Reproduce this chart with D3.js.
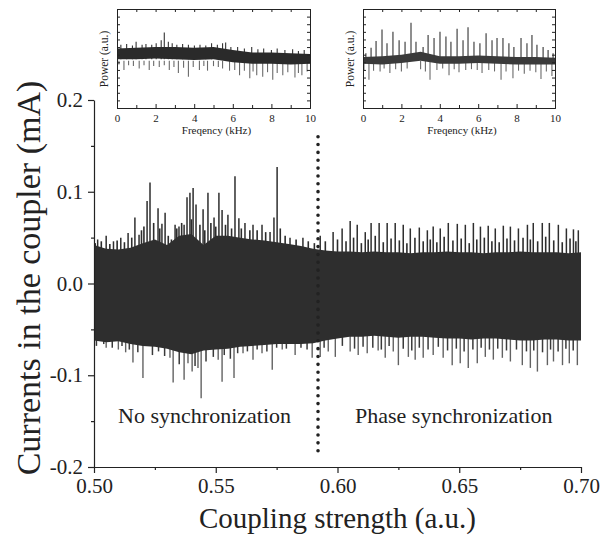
<!DOCTYPE html>
<html>
<head>
<meta charset="utf-8">
<script src="https://cdn.jsdelivr.net/npm/d3@7"></script>
<style>
body { margin: 0; background: #fff; }
text { font-family: "Liberation Serif", "DejaVu Serif", serif; fill: #222; }
.axis path, .axis line { stroke: #222; stroke-width: 1.2; }
</style>
</head>
<body>
<svg id="svgCanvas" width="602" height="542"></svg>
<script>
// main trace: dark band (envelope) read every 0.005 of coupling strength
var bodyX   = [0.500,0.505,0.510,0.515,0.520,0.525,0.530,0.535,0.540,0.545,0.550,0.555,0.560,0.565,0.570,0.575,0.580,0.585,0.590,0.595,0.600,
               0.605,0.610,0.615,0.620,0.625,0.630,0.635,0.640,0.645,0.650,0.655,0.660,0.665,0.670,0.675,0.680,0.685,0.690,0.695,0.700];
var bodyTop = [0.042,0.038,0.037,0.039,0.044,0.048,0.042,0.052,0.054,0.042,0.052,0.052,0.050,0.048,0.047,0.045,0.043,0.041,0.038,0.036,0.035,
               0.035,0.034,0.035,0.034,0.034,0.033,0.034,0.034,0.035,0.034,0.034,0.033,0.034,0.034,0.035,0.034,0.034,0.034,0.033,0.034];
var bodyBot = [-0.062,-0.064,-0.063,-0.066,-0.068,-0.069,-0.071,-0.075,-0.077,-0.073,-0.072,-0.071,-0.069,-0.068,-0.067,-0.066,-0.066,-0.066,-0.065,-0.062,-0.060,
               -0.058,-0.058,-0.057,-0.058,-0.059,-0.058,-0.058,-0.059,-0.060,-0.060,-0.061,-0.060,-0.060,-0.061,-0.062,-0.062,-0.061,-0.061,-0.062,-0.062];

// spikes sticking out of the band [x, value]
var spikesUp = [[0.5015,0.048],[0.5050,0.052],[0.5080,0.046],[0.5110,0.050],[0.5140,0.055],[0.5168,0.072],[0.5185,0.053],[0.5218,0.090],
  [0.5230,0.110],[0.5263,0.082],[0.5279,0.065],[0.5292,0.077],[0.5333,0.064],[0.5349,0.062],[0.5370,0.064],[0.5382,0.094],[0.5394,0.099],
  [0.5407,0.104],[0.5419,0.086],[0.5448,0.081],[0.5468,0.099],[0.5493,0.072],[0.5513,0.099],[0.5526,0.080],[0.5550,0.075],[0.5579,0.117],
  [0.5595,0.071],[0.5620,0.066],[0.5653,0.064],[0.5690,0.064],[0.5723,0.056],[0.5739,0.072],[0.5752,0.127],[0.5805,0.050],[0.5858,0.050],
  [0.5929,0.052],[0.5982,0.056],[0.6019,0.060],[0.6052,0.068],[0.6081,0.064],[0.6114,0.056],[0.6138,0.066],[0.6171,0.066],[0.6204,0.066],
  [0.6237,0.066],[0.6270,0.064],[0.6299,0.060],[0.6336,0.061],[0.6369,0.058],[0.6393,0.062],[0.6422,0.060],[0.6455,0.066],[0.6492,0.065],
  [0.6525,0.064],[0.6558,0.066],[0.6587,0.062],[0.6619,0.063],[0.6648,0.060],[0.6681,0.063],[0.6710,0.062],[0.6743,0.060],[0.6780,0.064],
  [0.6804,0.066],[0.6841,0.066],[0.6870,0.066],[0.6907,0.064],[0.6940,0.060],[0.6969,0.059],[0.6989,0.058]];
var spikesUpMinor = [[0.5005,0.044],[0.5030,0.046],[0.5065,0.043],[0.5095,0.047],[0.5125,0.045],[0.5155,0.050],[0.5195,0.058],[0.5205,0.062],
  [0.5245,0.066],[0.5270,0.060],[0.5305,0.052],[0.5318,0.048],[0.5340,0.060],[0.5360,0.066],[0.5400,0.070],[0.5435,0.064],[0.5455,0.058],
  [0.5480,0.066],[0.5500,0.062],[0.5540,0.064],[0.5565,0.060],[0.5605,0.060],[0.5640,0.058],[0.5670,0.058],[0.5705,0.056],[0.5765,0.060],
  [0.5785,0.052],[0.5830,0.048],[0.5880,0.046],[0.5905,0.044],
  [0.5950,0.046],[0.6000,0.048],[0.6035,0.046],[0.6066,0.050],[0.6098,0.044],[0.6126,0.048],[0.6155,0.052],[0.6188,0.045],
  [0.6220,0.049],[0.6254,0.047],[0.6285,0.044],[0.6318,0.050],[0.6352,0.046],[0.6381,0.048],[0.6408,0.045],[0.6438,0.051],[0.6474,0.047],
  [0.6508,0.049],[0.6541,0.044],[0.6572,0.048],[0.6603,0.050],[0.6634,0.046],[0.6664,0.045],[0.6696,0.049],[0.6727,0.047],[0.6762,0.050],
  [0.6792,0.048],[0.6822,0.046],[0.6855,0.051],[0.6888,0.047],[0.6923,0.045],[0.6955,0.049],[0.6979,0.046]];
var spikesDown = [[0.5025,-0.053],[0.5050,-0.070],[0.5100,-0.072],[0.5130,-0.075],[0.5160,-0.086],[0.5201,-0.103],[0.5222,-0.064],
  [0.5312,-0.081],[0.5325,-0.108],[0.5370,-0.105],[0.5386,-0.087],[0.5403,-0.096],[0.5427,-0.092],[0.5440,-0.125],[0.5510,-0.083],
  [0.5526,-0.107],[0.5547,-0.069],[0.5575,-0.103],[0.5612,-0.076],[0.5653,-0.083],[0.5690,-0.076],[0.5732,-0.094],[0.5773,-0.072],
  [0.5826,-0.078],[0.5896,-0.081],[0.5929,-0.080],[0.5962,-0.074],[0.5991,-0.080],[0.6052,-0.074],[0.6085,-0.078],[0.6122,-0.076],
  [0.6167,-0.073],[0.6196,-0.081],[0.6229,-0.074],[0.6250,-0.089],[0.6291,-0.080],[0.6319,-0.083],[0.6352,-0.081],[0.6393,-0.078],
  [0.6434,-0.081],[0.6471,-0.089],[0.6504,-0.087],[0.6537,-0.092],[0.6574,-0.087],[0.6607,-0.080],[0.6640,-0.083],[0.6677,-0.081],
  [0.6710,-0.085],[0.6759,-0.089],[0.6792,-0.092],[0.6821,-0.096],[0.6862,-0.089],[0.6887,-0.085],[0.6924,-0.089],[0.6952,-0.087],[0.6985,-0.089]];
var spikesDownMinor = [[0.5010,-0.068],[0.5040,-0.066],[0.5075,-0.070],[0.5115,-0.068],[0.5145,-0.072],[0.5180,-0.075],[0.5240,-0.078],
  [0.5265,-0.074],[0.5290,-0.079],[0.5350,-0.088],[0.5415,-0.090],[0.5460,-0.085],[0.5490,-0.080],[0.5535,-0.078],[0.5560,-0.082],
  [0.5590,-0.076],[0.5630,-0.074],[0.5670,-0.072],[0.5710,-0.074],[0.5750,-0.070],[0.5790,-0.071],[0.5850,-0.070],[0.5875,-0.072],
  [0.5945,-0.070],[0.6020,-0.068],[0.6070,-0.071],[0.6105,-0.069],[0.6145,-0.070],[0.6180,-0.072],[0.6212,-0.068],
  [0.6270,-0.071],[0.6305,-0.073],[0.6336,-0.070],[0.6372,-0.072],[0.6414,-0.069],[0.6452,-0.073],[0.6488,-0.071],[0.6520,-0.074],
  [0.6556,-0.072],[0.6590,-0.070],[0.6624,-0.072],[0.6658,-0.071],[0.6694,-0.073],[0.6735,-0.072],[0.6776,-0.074],[0.6806,-0.073],
  [0.6842,-0.075],[0.6875,-0.072],[0.6906,-0.074],[0.6938,-0.071],[0.6968,-0.073]];

var xTicks = [0.50,0.55,0.60,0.65,0.70];
var xMinorTicks = [0.525,0.575,0.625,0.675];
var yTicks = [-0.2,-0.1,0.0,0.1,0.2];
var yMinorTicks = [-0.15,-0.05,0.05,0.15];
var transitionX = 0.592;
var transitionSpan = [-0.184, 0.160];

// insets: power spectra, frequency in kHz, power in arbitrary units (0..13)
var specF = [0,1,2,3,4,5,6,7,8,9,10];
var leftTop = [7.8,7.9,8.0,8.0,7.9,8.0,7.6,7.3,7.3,7.2,7.1];
var leftBot = [6.4,6.4,6.5,6.4,6.3,6.4,6.0,5.8,5.8,5.7,5.8];
var leftPeaks = [[0.2,8.3],[0.5,8.4],[0.8,8.2],[0.99,8.7],[1.3,8.3],[1.5,8.4],[1.8,8.3],[2.03,8.5],[2.29,8.9],[2.45,9.9],[2.66,8.7],[2.86,8.5],
  [3.1,8.3],[3.4,8.4],[3.7,8.3],[4.01,8.2],[4.3,8.3],[4.6,8.2],[4.9,8.5],[5.2,8.3],[5.47,8.5],[5.63,8.6],[5.9,8.0],[6.25,8.0],[6.6,7.8],
  [6.98,8.0],[7.3,7.7],[7.6,7.8],[8.0,7.6],[8.3,7.8],[8.7,7.6],[9.1,7.7],[9.4,7.5],[9.7,7.6]];
var leftDips = [[0.1,5.7],[0.36,5.0],[0.6,5.6],[0.85,5.5],[1.15,5.2],[1.4,5.6],[1.67,5.0],[1.9,5.5],[2.19,5.4],[2.45,5.6],[2.71,5.0],[2.95,5.4],
  [3.18,4.6],[3.45,5.3],[3.70,4.1],[3.95,5.4],[4.27,5.0],[4.5,5.5],[4.69,4.9],[5.0,5.5],[5.25,5.4],[5.47,5.2],[5.83,4.9],[6.1,5.0],
  [6.35,4.3],[6.6,4.9],[6.88,3.9],[7.05,4.8],[7.24,4.3],[7.55,4.1],[7.8,4.7],[8.07,3.7],[8.3,4.6],[8.59,4.3],[8.85,4.7],[9.22,4.0],[9.4,4.6],[9.58,4.3],[9.85,4.8]];
var rightTop = [6.7,6.8,7.0,7.4,6.8,6.8,6.9,6.8,6.7,6.7,6.6];
var rightBot = [5.8,5.7,5.9,6.2,5.8,5.8,5.9,5.8,5.7,5.7,5.7];
var rightPeaks = [[0.15,7.2],[0.42,7.9],[0.68,8.8],[0.99,10.3],[1.25,8.5],[1.56,10.0],[1.88,8.9],[2.19,8.7],[2.50,11.2],[2.76,8.7],[3.13,8.0],
  [3.39,9.6],[3.70,9.2],[4.01,10.0],[4.32,9.4],[4.58,8.7],[4.90,10.4],[5.21,8.9],[5.47,10.6],[5.78,8.7],[6.09,8.5],[6.41,9.8],[6.72,8.9],
  [6.98,9.2],[7.29,9.2],[7.60,8.5],[7.86,8.0],[8.23,9.2],[8.54,8.5],[8.80,9.6],[9.06,8.3],[9.38,8.0],[9.64,7.6],[9.90,7.2]];
var rightDips = [[0.05,4.9],[0.31,3.7],[0.55,4.9],[0.89,4.8],[1.1,5.2],[1.4,4.6],[1.7,5.1],[2.0,4.8],[2.3,5.2],[3.0,5.1],[3.25,4.8],[3.49,3.7],
  [3.85,5.0],[4.15,5.2],[4.48,4.3],[4.75,5.1],[5.0,4.7],[5.35,5.0],[5.65,5.1],[5.95,5.0],[6.2,4.6],[6.55,5.0],[6.85,4.8],[7.19,3.7],
  [7.45,4.8],[7.81,3.9],[8.1,4.9],[8.4,4.5],[8.7,4.9],[9.0,4.7],[9.27,3.8],[9.55,4.8],[9.84,4.2]];
var freqTicks = [0,2,4,6,8,10];
var freqMinorTicks = [1,3,5,7,9];
var powerTicks = d3.range(0, 14);

var canvas = d3.select("#svgCanvas");

var x = d3.scaleLinear().domain([0.5, 0.7]).range([94, 581]);
var y = d3.scaleLinear().domain([-0.2, 0.2]).range([467, 100]);

function drawSpikes(g, data, base, color, w) {
    g.selectAll(null)
        .data(data)
        .enter().append("line")
        .attr("x1", function(d) { return x(d[0]); })
        .attr("x2", function(d) { return x(d[0]); })
        .attr("y1", y(base))
        .attr("y2", function(d) { return y(d[1]); })
        .attr("stroke", color)
        .attr("stroke-width", w);
}

//spikes first, band on top of them
var spikes = canvas.append("g");
drawSpikes(spikes, spikesUpMinor, 0, "#2c2c2c", 1.6);
drawSpikes(spikes, spikesDownMinor, 0, "#3a3a3a", 1.5);
drawSpikes(spikes, spikesUp, 0, "#2e2e2e", 1.5);
drawSpikes(spikes, spikesDown, 0, "#626262", 1.4);

var band = d3.area()
    .x(function(d, i) { return x(bodyX[i]); })
    .y0(function(d, i) { return y(bodyBot[i]); })
    .y1(function(d, i) { return y(bodyTop[i]); });

canvas.append("path")
    .datum(bodyX)
    .attr("d", band)
    .attr("fill", "#2e2e2e");

//dotted transition line
canvas.append("line")
    .attr("x1", x(transitionX)).attr("x2", x(transitionX))
    .attr("y1", y(transitionSpan[1])).attr("y2", y(transitionSpan[0]))
    .attr("stroke", "#222")
    .attr("stroke-width", 3.6)
    .attr("stroke-linecap", "round")
    .attr("stroke-dasharray", "0 7.85");

//axes
canvas.append("g").attr("class", "axis")
    .attr("transform", "translate(0," + y(-0.2) + ")")
    .call(d3.axisBottom(x).tickValues(xTicks).tickSize(6).tickSizeOuter(0).tickPadding(5)
        .tickFormat(function(d) { return d.toFixed(2); }));
canvas.append("g").attr("class", "axis")
    .attr("transform", "translate(0," + y(-0.2) + ")")
    .call(d3.axisBottom(x).tickValues(xMinorTicks).tickSize(3).tickFormat(""))
    .select(".domain").remove();

canvas.append("g").attr("class", "axis")
    .attr("transform", "translate(" + x(0.5) + ",0)")
    .call(d3.axisLeft(y).tickValues(yTicks).tickSize(6).tickSizeOuter(0).tickPadding(5)
        .tickFormat(function(d) { return d.toFixed(1); }));
canvas.append("g").attr("class", "axis")
    .attr("transform", "translate(" + x(0.5) + ",0)")
    .call(d3.axisLeft(y).tickValues(yMinorTicks).tickSize(3).tickFormat(""))
    .select(".domain").remove();

canvas.selectAll(".axis text")
    .style("font-family", "'Liberation Serif', serif")
    .style("font-size", "21px")
    .attr("fill", "#222");

canvas.append("text")
    .attr("x", (x(0.5) + x(0.7)) / 2)
    .attr("y", 528)
    .attr("text-anchor", "middle")
    .style("font-size", "29px")
    .text("Coupling strength (a.u.)");

canvas.append("text")
    .attr("transform", "translate(40,278) rotate(-90)")
    .attr("text-anchor", "middle")
    .style("font-size", "34px")
    .text("Currents in the coupler (mA)");

canvas.append("text")
    .attr("x", x(0.5099)).attr("y", y(-0.152))
    .style("font-size", "22px")
    .text("No synchronization");
canvas.append("text")
    .attr("x", x(0.6072)).attr("y", y(-0.152))
    .style("font-size", "22px")
    .text("Phase synchronization");

//insets
function drawInset(x0, x1, top, bot, peaks, dips, fill) {
    var fx = d3.scaleLinear().domain([0, 10]).range([x0, x1]);
    var py = d3.scaleLinear().domain([0, 13]).range([108, 9]);
    var g = canvas.append("g");

    g.selectAll(null).data(peaks).enter().append("line")
        .attr("x1", function(d) { return fx(d[0]); })
        .attr("x2", function(d) { return fx(d[0]); })
        .attr("y1", py(6.4))
        .attr("y2", function(d) { return py(d[1]); })
        .attr("stroke", "#333").attr("stroke-width", 1.1);
    g.selectAll(null).data(dips).enter().append("line")
        .attr("x1", function(d) { return fx(d[0]); })
        .attr("x2", function(d) { return fx(d[0]); })
        .attr("y1", py(6.2))
        .attr("y2", function(d) { return py(d[1]); })
        .attr("stroke", "#6a6a6a").attr("stroke-width", 1.1);

    g.append("path")
        .datum(specF)
        .attr("d", d3.area()
            .x(function(d) { return fx(d); })
            .y0(function(d, i) { return py(bot[i]); })
            .y1(function(d, i) { return py(top[i]); }))
        .attr("fill", fill);

    var b = g.append("g").attr("class", "axis").attr("transform", "translate(0,108)")
        .call(d3.axisBottom(fx).tickValues(freqTicks).tickSize(-4).tickSizeOuter(0).tickPadding(6));
    b.selectAll("text").style("font-size", "11px").style("font-family", "'Liberation Serif', serif").attr("fill", "#222");
    g.append("g").attr("class", "axis").attr("transform", "translate(0,108)")
        .call(d3.axisBottom(fx).tickValues(freqMinorTicks).tickSize(-3).tickFormat(""));
    g.append("g").attr("class", "axis").attr("transform", "translate(0,9)")
        .call(d3.axisTop(fx).tickValues(d3.merge([freqTicks, freqMinorTicks])).tickSize(-3).tickSizeOuter(0).tickFormat(""));
    g.append("g").attr("class", "axis").attr("transform", "translate(" + x0 + ",0)")
        .call(d3.axisLeft(py).tickValues(powerTicks).tickSize(-3).tickSizeOuter(0).tickFormat(""));
    g.append("g").attr("class", "axis").attr("transform", "translate(" + x1 + ",0)")
        .call(d3.axisRight(py).tickValues(powerTicks).tickSize(-3).tickSizeOuter(0).tickFormat(""));
    g.selectAll(".axis path, .axis line").style("stroke-width", 1);

    g.append("text")
        .attr("x", (x0 + x1) / 2 + 3).attr("y", 133.5)
        .attr("text-anchor", "middle")
        .style("font-size", "11px")
        .text("Freqency (kHz)");
    g.append("text")
        .attr("transform", "translate(" + (x0 - 9) + ",59) rotate(-90)")
        .attr("text-anchor", "middle")
        .style("font-size", "11.5px")
        .text("Power (a.u.)");
}

drawInset(117, 310, leftTop, leftBot, leftPeaks, leftDips, "#2a2a2a");
drawInset(363, 555, rightTop, rightBot, rightPeaks, rightDips, "#3a3a3a");
</script>
</body>
</html>
